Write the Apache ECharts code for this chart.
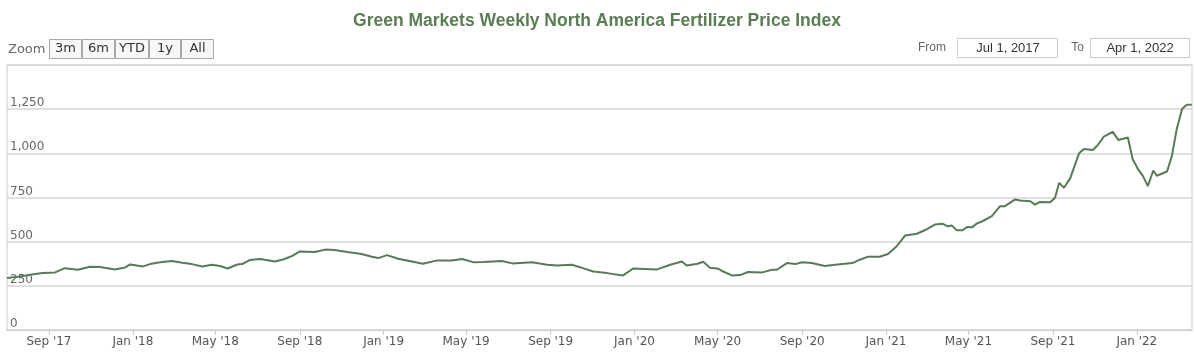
<!DOCTYPE html>
<html>
<head>
<meta charset="utf-8">
<script src="https://cdn.jsdelivr.net/npm/echarts@6/dist/echarts.min.js"></script>
<style>
html,body{margin:0;padding:0;background:#fff;}
#chart{width:1194px;height:357px;}
</style>
</head>
<body>
<div id="chart"></div>
<script>
// ---- data ----
const startDate = '2017-07-01';
// days after startDate of each weekly reading
const dayOffsets = [1,20,39,53,71,85,104,122,136,158,173,180,199,209,224,241,256,270,285,299,311,322,336,343,354,369,391,405,416,427,449,464,478,496,507,517,532,541,554,570,590,606,627,648,663,679,694,721,736,765,787,801,823,839,854,874,897,912,947,966,983,990,1006,1014,1024,1036,1043,1056,1068,1079,1100,1114,1121,1136,1148,1158,1172,1191,1206,1231,1242,1254,1271,1283,1296,1308,1325,1337,1351,1362,1370,1376,1383,1391,1398,1405,1412,1421,1434,1446,1453,1468,1475,1490,1497,1504,1519,1526,1532,1539,1548,1561,1568,1581,1588,1597,1610,1618,1632,1639,1647,1654,1661,1669,1674,1689,1696,1703,1711,1718,1725];
const indexValues = [295,303,316,322,326,350,341,358,356,343,354,371,360,373,383,390,381,373,360,369,362,348,371,373,396,402,388,402,420,445,441,455,453,441,436,430,415,407,424,403,388,375,394,394,402,384,385,390,377,383,369,365,369,350,331,322,308,348,343,369,388,365,375,386,352,347,331,309,311,328,326,341,341,379,373,383,379,362,369,379,398,415,415,430,476,535,545,566,597,602,587,591,564,564,583,581,602,617,644,701,701,739,733,729,710,725,723,748,833,805,858,1000,1025,1019,1046,1095,1122,1076,1090,966,909,871,814,903,873,897,985,1136,1252,1275,1275];
const tickDates = ['2017-09-01','2018-01-01','2018-05-01','2018-09-01','2019-01-01','2019-05-01','2019-09-01','2020-01-01','2020-05-01','2020-09-01','2021-01-01','2021-05-01','2021-09-01','2022-01-01'];
const monthNames = ['Jan','Feb','Mar','Apr','May','Jun','Jul','Aug','Sep','Oct','Nov','Dec'];
const zoomButtons = ['3m','6m','YTD','1y','All'];
const fromText = 'Jul 1, 2017';
const toText = 'Apr 1, 2022';
const titleText = 'Green Markets Weekly North America Fertilizer Price Index';
const axisStartDay = 0.9, axisEndDay = 1725.3;

function ts(s){ const p = s.split('-').map(Number); return Date.UTC(p[0], p[1]-1, p[2]); }
const DAY = 86400000;
const t0 = ts(startDate);
const seriesData = dayOffsets.map((d,i)=>[t0 + d*DAY, indexValues[i]]);
const tickValues = tickDates.map(ts);

const chart = echarts.init(document.getElementById('chart'), null, {renderer:'canvas'});

const btnX = [49,82,115,149,181], btnW = [32,32,33,31,32];
const graphics = [];
graphics.push({type:'text', x:8, y:50, style:{text:'Zoom', font:'13px "DejaVu Sans"', fill:'#666666', align:'left', verticalAlign:'middle'}});
zoomButtons.forEach((b,i)=>{
  graphics.push({type:'rect', shape:{x:btnX[i]+0.5, y:39.5, width:btnW[i], height:19}, style:{fill:'#f7f7f7', stroke:'#a8a8a8', lineWidth:1}});
  graphics.push({type:'text', x:btnX[i]+btnW[i]/2+0.5, y:49, style:{text:b, font:'13px "DejaVu Sans"', fill:'#333333', align:'center', verticalAlign:'middle'}});
});
graphics.push({type:'text', x:946, y:48, style:{text:'From', font:'12px "Liberation Sans"', fill:'#666666', align:'right', verticalAlign:'middle'}});
graphics.push({type:'rect', shape:{x:957.5, y:38.5, width:100, height:19}, style:{fill:'#ffffff', stroke:'#cccccc', lineWidth:1}});
graphics.push({type:'text', x:1008, y:48, style:{text:fromText, font:'13px "Liberation Sans"', fill:'#333333', align:'center', verticalAlign:'middle'}});
graphics.push({type:'text', x:1084, y:48, style:{text:'To', font:'12px "Liberation Sans"', fill:'#666666', align:'right', verticalAlign:'middle'}});
graphics.push({type:'rect', shape:{x:1090.5, y:38.5, width:99, height:19}, style:{fill:'#ffffff', stroke:'#cccccc', lineWidth:1}});
graphics.push({type:'text', x:1140, y:48, style:{text:toText, font:'13px "Liberation Sans"', fill:'#333333', align:'center', verticalAlign:'middle'}});

chart.setOption({
  animation:false,
  backgroundColor:'#ffffff',
  title:{text:titleText, left:'center', top:7, textStyle:{fontFamily:'"Liberation Sans", Arial', fontSize:17.5, fontWeight:'bold', color:'#5b7d53'}},
  grid:{left:7, right:2, top:65, bottom:27, show:true, borderColor:'#cccccc', borderWidth:1, backgroundColor:'#ffffff'},
  xAxis:{
    type:'value',
    min: t0 + axisStartDay*DAY,
    max: t0 + axisEndDay*DAY,
    axisLine:{show:true, onZero:false, lineStyle:{color:'#cccccc'}},
    axisTick:{show:true, customValues:tickValues, length:5, lineStyle:{color:'#cccccc'}},
    splitLine:{show:false},
    axisLabel:{customValues:tickValues, margin:6, color:'#555555', fontFamily:'"DejaVu Sans"', fontSize:12,
      formatter:function(v){ const d = new Date(v); return monthNames[d.getUTCMonth()] + " '" + String(d.getUTCFullYear()).slice(2); }}
  },
  yAxis:{
    type:'value', min:0, max:1500, interval:250,
    axisLine:{show:false}, axisTick:{show:false},
    splitLine:{show:true, lineStyle:{color:'#d6d6d6', width:1.5}},
    axisLabel:{inside:true, margin:3, showMaxLabel:false, verticalAlign:'bottom', lineHeight:12, padding:0,
      color:'#666666', fontFamily:'"DejaVu Sans"', fontSize:12,
      formatter:function(v){ return v.toLocaleString('en-US'); }}
  },
  series:[{
    type:'line', data:seriesData, showSymbol:false, symbol:'none', smooth:false,
    lineStyle:{color:'#587a56', width:2}, z:3
  }],
  graphic:graphics
});
</script>
</body>
</html>
